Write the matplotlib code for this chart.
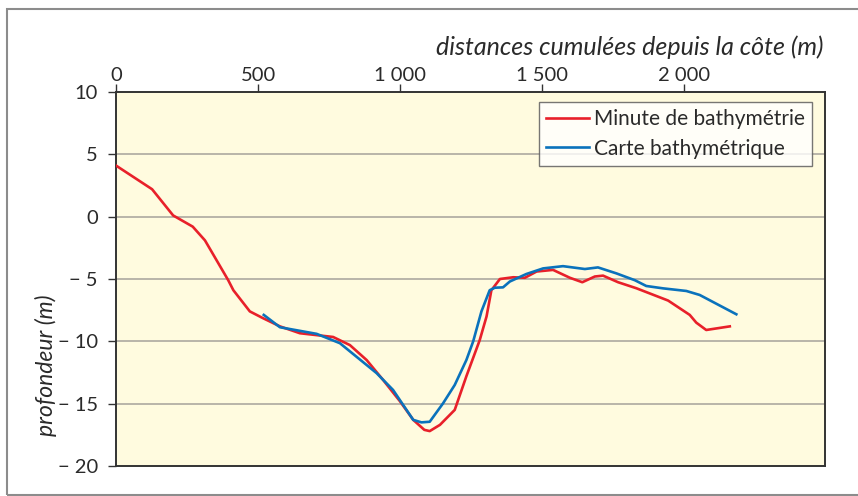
import matplotlib
matplotlib.use("Agg")
import matplotlib.pyplot as plt
from matplotlib.patches import Rectangle

plt.rcParams["font.family"] = ["Lato", "DejaVu Sans"]

# ---------------------------------------------------------------------------
# Data (distance in m, depth in m)
# ---------------------------------------------------------------------------
minute_x = [0, 127, 201, 270, 313, 331, 395, 413, 471, 518, 577, 647, 764, 823,
            882, 940, 999, 1046, 1085, 1104, 1140, 1192, 1233, 1280, 1304, 1321,
            1351, 1398, 1439, 1480, 1538, 1597, 1641, 1685, 1714, 1767, 1831,
            1943, 2019, 2042, 2077, 2160]
minute_y = [4.1, 2.2, 0.1, -0.8, -1.9, -2.6, -5.1, -5.9, -7.6, -8.15, -8.8,
            -9.35, -9.65, -10.3, -11.5, -13.1, -14.8, -16.3, -17.1, -17.2,
            -16.7, -15.5, -12.8, -9.9, -8.0, -5.9, -5.0, -4.86, -4.9, -4.4,
            -4.27, -4.9, -5.26, -4.8, -4.73, -5.26, -5.74, -6.73, -7.88,
            -8.5, -9.09, -8.8]

carte_x = [520, 577, 706, 788, 917, 975, 1046, 1075, 1104, 1151, 1192, 1233,
           1257, 1286, 1315, 1333, 1362, 1386, 1444, 1503, 1573, 1650, 1696,
           1761, 1826, 1866, 1925, 2007, 2054, 2183]
carte_y = [-7.88, -8.87, -9.4, -10.15, -12.55, -13.9, -16.3, -16.5, -16.45,
           -14.97, -13.5, -11.5, -10.0, -7.6, -5.9, -5.7, -5.67, -5.2, -4.6,
           -4.15, -3.97, -4.2, -4.07, -4.55, -5.1, -5.56, -5.75, -5.96, -6.28,
           -7.83]

x_ticks = [0, 500, 1000, 1500, 2000]
x_labels = ["0", "500", "1 000", "1 500", "2 000"]
y_ticks = [10, 5, 0, -5, -10, -15, -20]
y_labels = ["10", "5", "0", "\u2212 5", "\u2212 10", "\u2212 15", "\u2212 20"]

RED = "#e8202a"
BLUE = "#0a72bc"
TXT = "#2a2a2a"

fig = plt.figure(figsize=(8.58, 4.96), dpi=100)
fig.patches.append(Rectangle((7 / 858, 1 / 496), 1.0, 486 / 496, transform=fig.transFigure,
                             fill=False, edgecolor="#8c8c8c", linewidth=1.5))

ax = fig.add_axes([116 / 858, 30 / 496, 709 / 858, 374 / 496])
ax.set_facecolor("#fffbdf")
ax.set_xlim(0, 2495)
ax.set_ylim(-20, 10)

for v in [5, 0, -5, -10, -15]:
    ax.axhline(v, color="#a5a29a", linewidth=1.1, zorder=1)

ax.plot(minute_x, minute_y, color=RED, linewidth=1.9, label="Minute de bathymétrie", zorder=3)
ax.plot(carte_x, carte_y, color=BLUE, linewidth=1.9, label="Carte bathymétrique", zorder=4)

ax.xaxis.tick_top()
ax.set_xticks(x_ticks)
ax.set_xticklabels(x_labels)
ax.set_yticks(y_ticks)
ax.set_yticklabels(y_labels)
ax.tick_params(axis="x", direction="out", length=6, width=1, color="#333333",
               labelsize=14.5, pad=0, labelcolor=TXT)
ax.tick_params(axis="y", direction="out", length=6, width=1, color="#333333",
               labelsize=14.5, pad=7, labelcolor=TXT)
for s in ax.spines.values():
    s.set_color("#333333")
    s.set_linewidth(1.4)

leg = ax.legend(loc="upper right", bbox_to_anchor=(812 / 858, 1 - 102 / 496),
                bbox_transform=fig.transFigure, fontsize=15, frameon=True,
                fancybox=False, handlelength=2.05, handletextpad=0.25,
                borderpad=0.35, labelspacing=0.45, borderaxespad=0)
leg.get_frame().set_edgecolor("#555555")
leg.get_frame().set_linewidth(1)
for t in leg.get_texts():
    t.set_color(TXT)

fig.text(823 / 858, 1 - 55 / 496, "distances cumulées depuis la côte (m)", ha="right",
         va="baseline", fontsize=18, style="italic", color=TXT)
fig.text(46 / 858, 1 - 365 / 496, "profondeur (m)", ha="center", va="center",
         rotation=90, fontsize=16.5, style="italic", color=TXT)

fig.savefig("out.png", dpi=100)
